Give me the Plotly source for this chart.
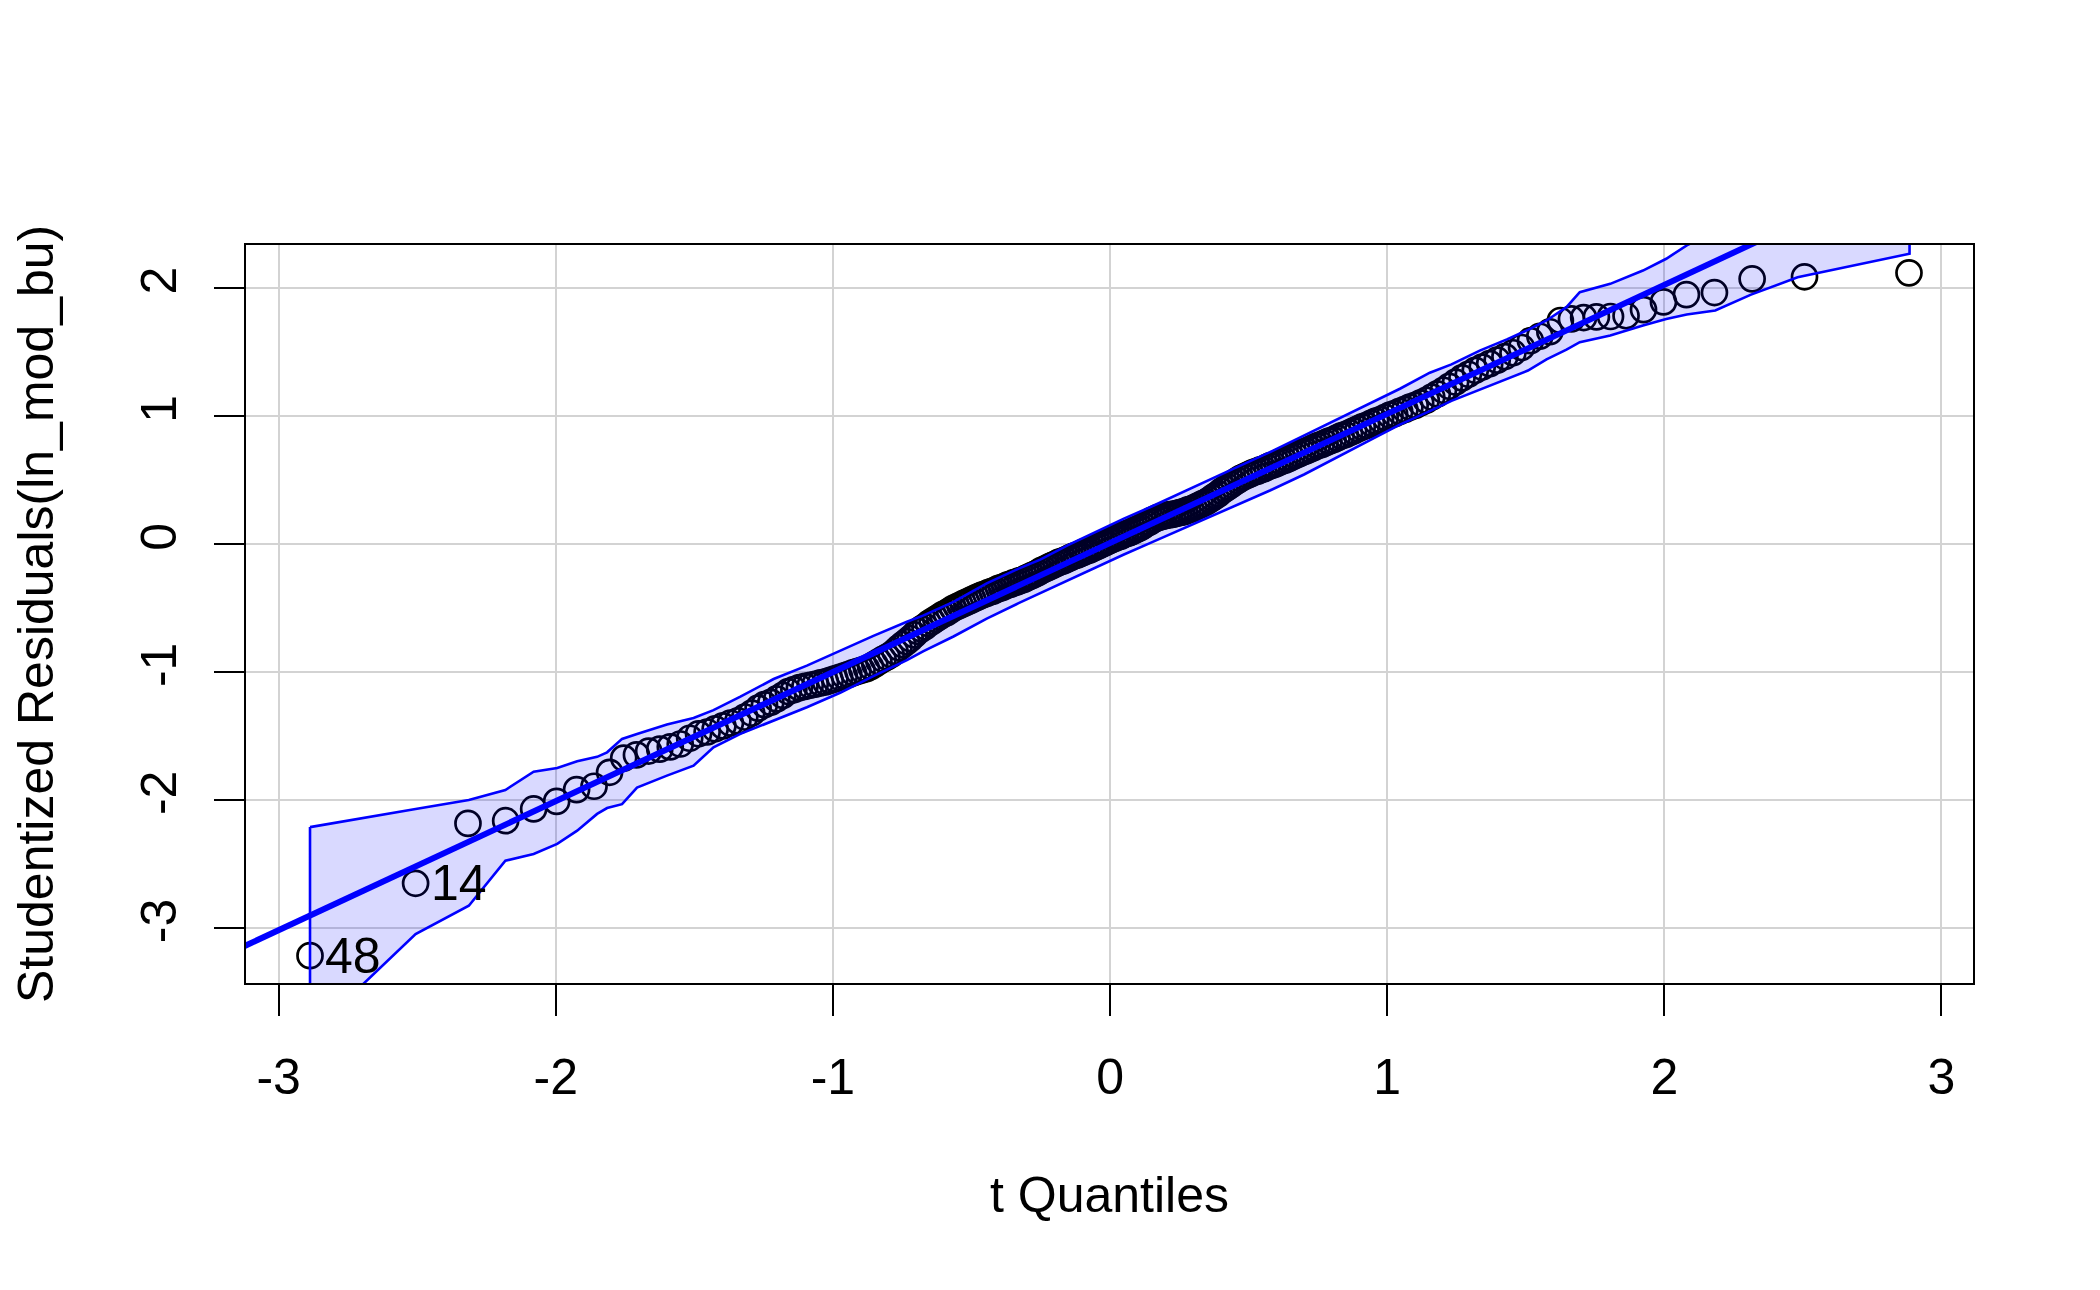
import plotly.graph_objects as go

# ---------------- data ----------------
# theoretical t quantiles (sorted)
t_quantiles = [
    -2.887, -2.506, -2.317, -2.181, -2.080, -1.997, -1.925, -1.862, -1.806, -1.755,
    -1.709, -1.665, -1.625, -1.587, -1.551, -1.517, -1.485, -1.454, -1.425, -1.397,
    -1.370, -1.343, -1.318, -1.293, -1.270, -1.247, -1.224, -1.203, -1.181, -1.161,
    -1.141, -1.121, -1.101, -1.082, -1.064, -1.045, -1.027, -1.010, -0.993, -0.976,
    -0.959, -0.943, -0.926, -0.910, -0.895, -0.879, -0.864, -0.849, -0.834, -0.819,
    -0.805, -0.790, -0.776, -0.762, -0.748, -0.734, -0.721, -0.707, -0.694, -0.681,
    -0.668, -0.655, -0.642, -0.629, -0.616, -0.604, -0.591, -0.579, -0.567, -0.554,
    -0.542, -0.530, -0.518, -0.506, -0.495, -0.483, -0.471, -0.460, -0.448, -0.437,
    -0.425, -0.414, -0.402, -0.391, -0.380, -0.369, -0.358, -0.347, -0.336, -0.325,
    -0.314, -0.303, -0.292, -0.281, -0.270, -0.259, -0.249, -0.238, -0.227, -0.216,
    -0.206, -0.195, -0.184, -0.174, -0.163, -0.152, -0.142, -0.131, -0.120, -0.110,
    -0.099, -0.089, -0.078, -0.068, -0.057, -0.047, -0.037, -0.026, -0.016, -0.005,
    0.005, 0.016, 0.026, 0.037, 0.047, 0.057, 0.068, 0.078, 0.089, 0.099,
    0.110, 0.120, 0.131, 0.142, 0.152, 0.163, 0.174, 0.184, 0.195, 0.206,
    0.216, 0.227, 0.238, 0.249, 0.259, 0.270, 0.281, 0.292, 0.303, 0.314,
    0.325, 0.336, 0.347, 0.358, 0.369, 0.380, 0.391, 0.402, 0.414, 0.425,
    0.437, 0.448, 0.460, 0.471, 0.483, 0.495, 0.506, 0.518, 0.530, 0.542,
    0.554, 0.567, 0.579, 0.591, 0.604, 0.616, 0.629, 0.642, 0.655, 0.668,
    0.681, 0.694, 0.707, 0.721, 0.734, 0.748, 0.762, 0.776, 0.790, 0.805,
    0.819, 0.834, 0.849, 0.864, 0.879, 0.895, 0.910, 0.926, 0.943, 0.959,
    0.976, 0.993, 1.010, 1.027, 1.045, 1.064, 1.082, 1.101, 1.121, 1.141,
    1.161, 1.181, 1.203, 1.224, 1.247, 1.270, 1.293, 1.318, 1.343, 1.370,
    1.397, 1.425, 1.454, 1.485, 1.517, 1.551, 1.587, 1.625, 1.665, 1.709,
    1.755, 1.806, 1.862, 1.925, 1.997, 2.080, 2.181, 2.317, 2.506, 2.883,
]

# sorted studentized residuals
studentized_residuals = [
    -3.213, -2.648, -2.180, -2.159, -2.067, -2.008, -1.916, -1.890, -1.781, -1.670,
    -1.645, -1.615, -1.600, -1.582, -1.560, -1.515, -1.480, -1.466, -1.441, -1.418,
    -1.396, -1.379, -1.349, -1.318, -1.280, -1.252, -1.234, -1.208, -1.180, -1.150,
    -1.135, -1.120, -1.110, -1.101, -1.093, -1.083, -1.075, -1.063, -1.051, -1.039,
    -1.027, -1.016, -1.003, -0.992, -0.982, -0.971, -0.956, -0.936, -0.916, -0.896,
    -0.881, -0.861, -0.837, -0.808, -0.784, -0.760, -0.737, -0.708, -0.680, -0.661,
    -0.643, -0.620, -0.602, -0.584, -0.566, -0.549, -0.536, -0.519, -0.502, -0.488,
    -0.476, -0.464, -0.452, -0.440, -0.429, -0.417, -0.405, -0.394, -0.387, -0.375,
    -0.368, -0.357, -0.345, -0.339, -0.328, -0.317, -0.311, -0.300, -0.294, -0.283,
    -0.277, -0.265, -0.254, -0.243, -0.232, -0.221, -0.206, -0.195, -0.184, -0.173,
    -0.163, -0.152, -0.140, -0.135, -0.124, -0.113, -0.103, -0.092, -0.086, -0.076,
    -0.065, -0.055, -0.049, -0.039, -0.027, -0.017, -0.007, 0.004, 0.014, 0.025,
    0.035, 0.046, 0.056, 0.062, 0.072, 0.082, 0.089, 0.099, 0.110, 0.120,
    0.131, 0.146, 0.162, 0.173, 0.188, 0.199, 0.210, 0.215, 0.222, 0.228,
    0.231, 0.234, 0.240, 0.246, 0.251, 0.257, 0.268, 0.274, 0.285, 0.297,
    0.308, 0.319, 0.330, 0.346, 0.362, 0.378, 0.394, 0.415, 0.432, 0.448,
    0.465, 0.482, 0.499, 0.515, 0.527, 0.539, 0.550, 0.562, 0.569, 0.581,
    0.588, 0.602, 0.614, 0.621, 0.634, 0.646, 0.654, 0.667, 0.680, 0.693,
    0.706, 0.720, 0.728, 0.742, 0.755, 0.769, 0.778, 0.792, 0.806, 0.816,
    0.831, 0.846, 0.856, 0.871, 0.886, 0.902, 0.917, 0.928, 0.946, 0.962,
    0.974, 0.991, 1.008, 1.020, 1.038, 1.053, 1.071, 1.085, 1.105, 1.125,
    1.150, 1.175, 1.203, 1.234, 1.267, 1.300, 1.328, 1.359, 1.384, 1.411,
    1.438, 1.466, 1.496, 1.537, 1.590, 1.625, 1.660, 1.748, 1.760, 1.771,
    1.776, 1.779, 1.785, 1.833, 1.893, 1.950, 1.966, 2.073, 2.089, 2.120,
]

# robust reference line (intercept, slope)
ref_intercept = 0.01
ref_slope = 1.008

# pointwise confidence envelope
env_x = [
    -2.887, -2.694, -2.506, -2.314, -2.182, -2.080, -1.995, -1.923, -1.851, -1.815,
    -1.761, -1.707, -1.599, -1.503, -1.431, -1.334, -1.214, -1.094, -0.974, -0.854,
    -0.733, -0.673, -0.565, -0.445, -0.330, -0.252, -0.150, -0.050, 0.050, 0.150,
    0.250, 0.350, 0.450, 0.577, 0.700, 0.820, 0.940, 1.046, 1.154, 1.232,
    1.334, 1.432, 1.508, 1.575, 1.647, 1.695, 1.805, 1.923, 2.007, 2.081,
    2.184, 2.313, 2.481, 2.885,
]
env_upper = [
    -2.209, -2.140, -2.068, -1.997, -1.919, -1.776, -1.747, -1.695, -1.660, -1.625,
    -1.520, -1.481, -1.407, -1.357, -1.295, -1.190, -1.052, -0.948, -0.830, -0.715,
    -0.605, -0.555, -0.450, -0.305, -0.190, -0.120, -0.005, 0.100, 0.200, 0.295,
    0.395, 0.500, 0.595, 0.720, 0.850, 0.980, 1.105, 1.215, 1.340, 1.405,
    1.513, 1.600, 1.675, 1.748, 1.852, 1.969, 2.034, 2.138, 2.230, 2.334,
    2.450, 2.600, 2.800, 3.300,
]
env_lower = [
    -3.830, -3.432, -3.045, -2.823, -2.471, -2.419, -2.340, -2.237, -2.106, -2.060,
    -2.030, -1.900, -1.807, -1.729, -1.586, -1.481, -1.377, -1.273, -1.160, -1.030,
    -0.905, -0.835, -0.720, -0.580, -0.460, -0.380, -0.280, -0.180, -0.080, 0.015,
    0.115, 0.210, 0.300, 0.420, 0.545, 0.680, 0.815, 0.935, 1.040, 1.120,
    1.205, 1.292, 1.357, 1.445, 1.520, 1.578, 1.630, 1.709, 1.760, 1.795,
    1.826, 1.950, 2.086, 2.269,
]

# labelled observations (index into sorted arrays, label)
label_index = [0, 1]
label_text = ["48", "14"]

x_tick_vals = [-3, -2, -1, 0, 1, 2, 3]
x_tick_text = ["-3", "-2", "-1", "0", "1", "2", "3"]
y_tick_vals = [-3, -2, -1, 0, 1, 2]
y_tick_text = ["-3", "-2", "-1", "0", "1", "2"]

x_title = "t Quantiles"
y_title = "Studentized Residuals(ln_mod_bu)"

# ---------------- figure ----------------
FONT = "Liberation Sans, Arial, Helvetica, sans-serif"
x_range = [-3.118, 3.114]
y_range = [-3.4265, 2.3375]

fig = go.Figure()

# points
fig.add_trace(go.Scatter(
    x=t_quantiles, y=studentized_residuals, mode="markers",
    marker=dict(symbol="circle-open", size=25, color="black", line=dict(width=2.7)),
    hoverinfo="skip",
))

# reference line
line_x = [x_range[0] - 0.5, x_range[1] + 0.5]
line_y = [ref_intercept + ref_slope * v for v in line_x]
fig.add_trace(go.Scatter(
    x=line_x, y=line_y, mode="lines",
    line=dict(color="#0000FF", width=6),
    hoverinfo="skip",
))

# envelope polygon
poly_x = env_x + env_x[::-1] + [env_x[0]]
poly_y = env_upper + env_lower[::-1] + [env_upper[0]]
fig.add_trace(go.Scatter(
    x=poly_x, y=poly_y, mode="lines", fill="toself",
    fillcolor="rgba(0,0,255,0.15)",
    line=dict(color="#0000FF", width=2.6),
    hoverinfo="skip",
))

annotations = []
for idx, txt in zip(label_index, label_text):
    annotations.append(dict(
        x=t_quantiles[idx], y=studentized_residuals[idx], xref="x", yref="y",
        text=txt, showarrow=False, xanchor="left", yanchor="middle", xshift=13,
        font=dict(family=FONT, size=50, color="black"),
    ))

annotations.append(dict(
    x=0.5, y=0, xref="paper", yref="paper", text=x_title, showarrow=False,
    xanchor="center", yanchor="middle", yshift=-212,
    font=dict(family=FONT, size=50, color="black"),
))
annotations.append(dict(
    x=0, y=0.5, xref="paper", yref="paper", text=y_title, showarrow=False,
    xanchor="center", yanchor="middle", xshift=-210, textangle=-90,
    font=dict(family=FONT, size=50, color="black"),
))

axis_common = dict(
    showline=True, linecolor="black", linewidth=2.3, mirror=True,
    ticks="outside", tickcolor="black", tickwidth=2.3,
    showgrid=True, gridcolor="#D3D3D3", gridwidth=2.3,
    zeroline=False,
    tickfont=dict(family=FONT, size=50, color="black"),
)

fig.update_layout(
    width=2100, height=1290,
    margin=dict(l=246, r=127, t=245, b=307),
    paper_bgcolor="white", plot_bgcolor="white",
    showlegend=False,
    xaxis=dict(range=x_range, tickmode="array", tickvals=x_tick_vals, ticktext=x_tick_text,
               ticklen=31, ticklabelstandoff=18, **axis_common),
    yaxis=dict(range=y_range, tickmode="array", tickvals=y_tick_vals, ticktext=y_tick_text,
               ticklen=30, tickangle=-90, ticklabelstandoff=18, **axis_common),
    annotations=annotations,
)

fig.write_html("out.html")
